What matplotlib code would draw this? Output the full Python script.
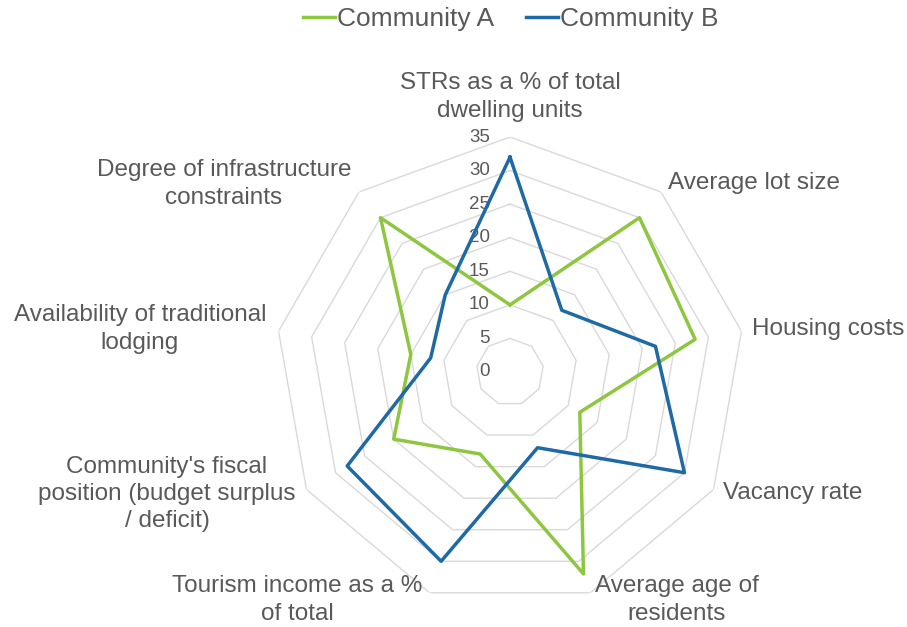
import numpy as np
import matplotlib.pyplot as plt

# categories (clockwise from top) and values
categories = ["STRs as a % of total\ndwelling units", "Average lot size", "Housing costs",
              "Vacancy rate", "Average age of\nresidents", "Tourism income as a %\nof total",
              "Community's fiscal\nposition (budget surplus\n/ deficit)",
              "Availability of traditional\nlodging", "Degree of infrastructure\nconstraints"]
community_a = [10, 30, 28, 12, 32, 13, 20, 15, 30]
community_b = [32, 12, 22, 30, 12, 30, 28, 12, 15]
ticks = [0, 5, 10, 15, 20, 25, 30, 35]

GREEN = '#8DC63F'
BLUE = '#1F6AA5'
TXT = '#595959'

plt.rcParams['font.family'] = ['Liberation Sans', 'DejaVu Sans']

fig = plt.figure(figsize=(9.07, 6.27), dpi=100)
cx, cy, R = 510, 372, 235
ax = fig.add_axes([(cx - R) / 907, (627 - cy - R) / 627, 2 * R / 907, 2 * R / 627], polar=True)
ax.set_theta_zero_location('N')
ax.set_theta_direction(-1)

n = len(categories)
theta = np.linspace(0, 2 * np.pi, n, endpoint=False)
closed = np.append(theta, theta[0])

# polygon grid rings
for t in ticks[1:]:
    ax.plot(closed, [t] * (n + 1), color='#d9d9d9', lw=1, zorder=1)

ax.plot(closed, community_a + community_a[:1], color=GREEN, lw=2.5, label='Community A', zorder=3)
ax.plot(closed, community_b + community_b[:1], color=BLUE, lw=2.5, label='Community B', zorder=3)

ax.set_ylim(0, 35)
ax.set_yticks([])
ax.set_xticks([])
ax.grid(False)
ax.spines['polar'].set_visible(False)
ax.patch.set_alpha(0)

for t in ticks:
    ax.annotate(str(t), xy=(0, t), xytext=(-20, 0), textcoords='offset pixels',
                ha='right', va='center', fontsize=13.5, color=TXT, zorder=2)

# category labels (pixel positions)
label_pos = [(510, 97, 'center'), (668, 183, 'left'), (752, 329, 'left'), (723, 493, 'left'),
             (677, 600, 'center'), (297, 600, 'center'), (167, 494, 'center'),
             (140, 329, 'center'), (224, 184, 'center')]
for lab, (x, y, ha) in zip(categories, label_pos):
    fig.text(x / 907, 1 - y / 627, lab, ha=ha, va='center', multialignment='center',
             fontsize=17.5, color=TXT, linespacing=1.3)

fig.legend(loc='center', bbox_to_anchor=(511 / 907, 1 - 19 / 627), ncol=2, frameon=False,
           fontsize=19, labelcolor=TXT, handlelength=1.2, handletextpad=0.1,
           columnspacing=1.2)

fig.savefig('out.png', dpi=100)
